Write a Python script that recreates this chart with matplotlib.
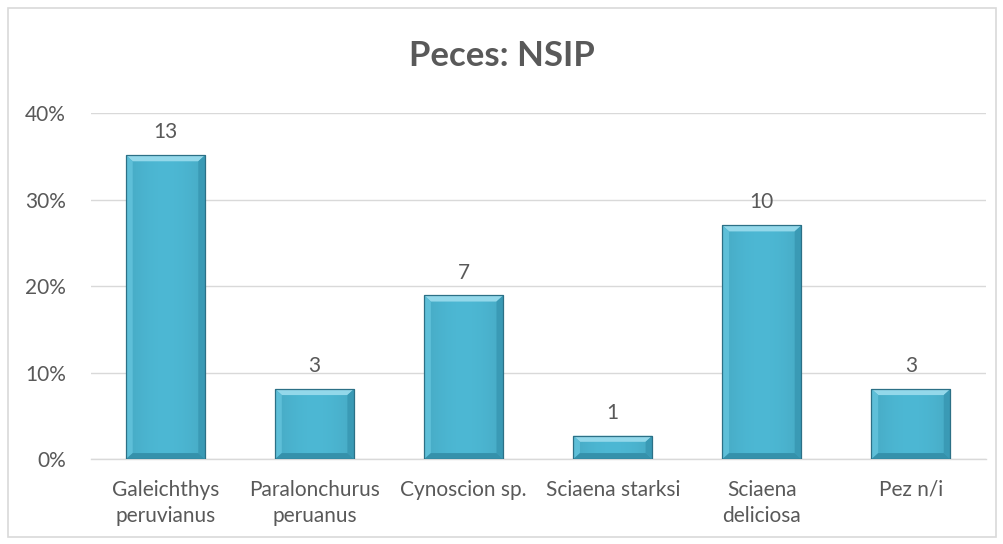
import numpy as np
import matplotlib.pyplot as plt
from matplotlib.patches import Rectangle, Polygon
from matplotlib.ticker import PercentFormatter

# datos
especies = ['Galeichthys\nperuvianus', 'Paralonchurus\nperuanus', 'Cynoscion sp.',
            'Sciaena starksi', 'Sciaena\ndeliciosa', 'Pez n/i']
nsip = [13, 3, 7, 1, 10, 3]
total = sum(nsip)
porcentaje = [n / total for n in nsip]

plt.rcParams['font.family'] = ['Lato', 'DejaVu Sans']
gris = '#595959'

fig = plt.figure(figsize=(10.04, 5.44), dpi=100)
ax = fig.add_axes([0.0906, 0.156, 0.891, 0.636])

# borde del grafico
fig.patches.append(Rectangle((0.008, 0.012), 0.984, 0.973, transform=fig.transFigure,
                             fill=False, edgecolor='#D9D9D9', linewidth=1.2))

x = np.arange(len(especies))
ancho = 0.53
barras = ax.bar(x, porcentaje, width=ancho, color='#4BB5D1', edgecolor='none', zorder=3)

# degradado horizontal suave
t = np.linspace(0, 1, 64)
perfil = 1 - 0.08 * np.abs(2 * t - 1) ** 2
base = np.array([0.30, 0.72, 0.83])
img = np.clip(base[None, :] * perfil[:, None], 0, 1)[None, :, :]

bx, by = 0.045, 0.007   # tamano del bisel
for b, n in zip(barras, nsip):
    x0, w, h = b.get_x(), b.get_width(), b.get_height()
    im = ax.imshow(img, extent=[x0, x0 + w, 0, h], aspect='auto', zorder=3.5,
                   interpolation='bilinear')
    im.set_clip_path(b)
    # bisel: arriba claro, izquierda algo claro, derecha y abajo oscuros
    ax.add_patch(Polygon([[x0, h], [x0 + w, h], [x0 + w - bx, h - by], [x0 + bx, h - by]],
                         facecolor='#93D8EA', edgecolor='none', zorder=3.6))
    ax.add_patch(Polygon([[x0, 0], [x0, h], [x0 + bx, h - by], [x0 + bx, by]],
                         facecolor='#5EBFD8', edgecolor='none', zorder=3.6))
    ax.add_patch(Polygon([[x0 + w, 0], [x0 + w, h], [x0 + w - bx, h - by], [x0 + w - bx, by]],
                         facecolor='#3A9AB5', edgecolor='none', zorder=3.6))
    ax.add_patch(Polygon([[x0, 0], [x0 + w, 0], [x0 + w - bx, by], [x0 + bx, by]],
                         facecolor='#3591AB', edgecolor='none', zorder=3.6))
    ax.add_patch(Rectangle((x0, 0), w, h, fill=False, edgecolor='#2C7086',
                           linewidth=0.9, zorder=3.7))
    ax.text(x0 + w / 2, h + 0.015, str(n), ha='center', va='bottom',
            fontsize=15, color=gris)

ax.set_xlim(-0.5, len(especies) - 0.5)
ax.set_ylim(0, 0.4)
ax.set_yticks([0, 0.1, 0.2, 0.3, 0.4])
ax.yaxis.set_major_formatter(PercentFormatter(1.0, decimals=0))
ax.grid(axis='y', color='#D9D9D9', linewidth=1, zorder=0)
ax.set_xticks(x)
ax.set_xticklabels(especies, fontsize=15, color=gris, linespacing=1.4)
ax.tick_params(axis='y', labelsize=15, labelcolor=gris, length=0, pad=18)
ax.tick_params(axis='x', length=0, pad=15)
for s in ['top', 'right', 'left']:
    ax.spines[s].set_visible(False)
ax.spines['bottom'].set_color('#D9D9D9')
ax.spines['bottom'].set_linewidth(1)

fig.text(0.5, 0.897, 'Peces: NSIP', ha='center', va='center', fontsize=25,
         fontweight='bold', color=gris)

fig.savefig('out.png', dpi=100)
